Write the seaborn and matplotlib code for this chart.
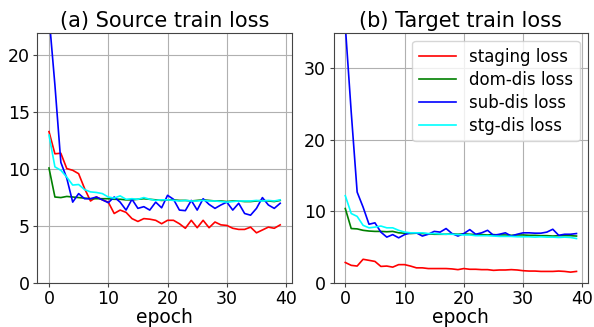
import numpy as np
import pandas as pd
import matplotlib
matplotlib.use("Agg")
import matplotlib.pyplot as plt
import seaborn as sns

epochs = list(range(40))
series_names = ["staging loss", "dom-dis loss", "sub-dis loss", "stg-dis loss"]
colors = ["red", "green", "blue", "cyan"]

# (a) source train loss
src_staging = [13.3, 11.35, 11.4, 10.05, 9.9, 9.6, 8.3, 7.2, 7.55, 7.3,
               7.1, 6.1, 6.4, 6.2, 5.65, 5.4, 5.65, 5.6, 5.5, 5.2,
               5.5, 5.5, 5.2, 4.8, 5.5, 4.85, 5.5, 4.85, 5.35, 5.1,
               5.05, 4.8, 4.7, 4.7, 4.9, 4.4, 4.65, 4.9, 4.8, 5.1]
src_dom = [10.1, 7.55, 7.5, 7.6, 7.55, 7.5, 7.45, 7.4, 7.4, 7.4,
           7.4, 7.35, 7.35, 7.3, 7.3, 7.35, 7.4, 7.35, 7.3, 7.25,
           7.3, 7.3, 7.25, 7.25, 7.2, 7.25, 7.3, 7.25, 7.2, 7.2,
           7.15, 7.2, 7.2, 7.15, 7.15, 7.2, 7.25, 7.2, 7.15, 7.25]
src_sub = [23.5, 17.4, 10.6, 9.2, 7.1, 7.85, 7.4, 7.4, 7.55, 7.3,
           7.05, 7.55, 7.1, 6.4, 7.35, 6.55, 6.7, 6.4, 7.1, 6.6,
           7.7, 7.35, 6.4, 6.35, 7.25, 6.4, 7.4, 6.9, 6.55, 6.85,
           7.1, 6.4, 7.0, 6.1, 5.95, 6.55, 7.5, 6.85, 6.55, 7.0]
src_stg = [13.0, 10.2, 9.9, 9.3, 8.6, 8.65, 8.2, 8.0, 7.95, 7.85,
           7.55, 7.45, 7.65, 7.35, 7.4, 7.35, 7.5, 7.35, 7.25, 7.3,
           7.3, 7.25, 7.2, 7.25, 7.2, 7.2, 7.25, 7.2, 7.2, 7.15,
           7.1, 7.15, 7.2, 7.2, 7.2, 7.25, 7.2, 7.25, 7.2, 7.3]

# (b) target train loss
tgt_staging = [2.85, 2.45, 2.35, 3.3, 3.15, 3.0, 2.3, 2.35, 2.2, 2.55,
               2.55, 2.35, 2.1, 2.1, 2.0, 2.0, 2.0, 2.0, 1.95, 1.85,
               2.0, 1.9, 1.9, 1.85, 1.85, 1.75, 1.8, 1.8, 1.85, 1.8,
               1.7, 1.65, 1.65, 1.6, 1.6, 1.6, 1.65, 1.6, 1.5, 1.6]
tgt_dom = [10.4, 7.6, 7.55, 7.35, 7.25, 7.2, 7.2, 7.15, 7.2, 7.0,
           6.95, 6.9, 6.95, 6.9, 6.85, 6.8, 6.8, 6.8, 6.85, 6.8,
           6.85, 6.8, 6.75, 6.75, 6.7, 6.75, 6.7, 6.7, 6.65, 6.7,
           6.7, 6.65, 6.65, 6.6, 6.6, 6.55, 6.6, 6.6, 6.6, 6.55]
tgt_sub = [36.0, 23.9, 12.7, 10.6, 8.2, 8.4, 7.1, 6.4, 6.75, 6.3,
           6.75, 7.0, 7.0, 6.55, 6.8, 7.2, 7.1, 7.6, 6.9, 6.55,
           6.9, 7.45, 6.8, 7.0, 7.35, 6.65, 6.8, 7.0, 6.55, 6.8,
           7.0, 7.0, 6.95, 6.95, 7.1, 7.5, 6.65, 6.8, 6.8, 6.9]
tgt_stg = [12.2, 9.7, 9.3, 8.05, 7.7, 7.8, 7.95, 7.7, 7.7, 7.35,
           7.1, 7.0, 7.0, 7.0, 6.9, 6.9, 6.85, 6.8, 6.8, 6.75,
           6.7, 6.7, 6.6, 6.6, 6.6, 6.55, 6.5, 6.5, 6.5, 6.45,
           6.45, 6.45, 6.4, 6.45, 6.4, 6.4, 6.35, 6.4, 6.35, 6.2]


def to_long(cols):
    frames = []
    for name, vals in zip(series_names, cols):
        frames.append(pd.DataFrame({"epoch": epochs, "loss": vals, "series": name}))
    return pd.concat(frames, ignore_index=True)


src_df = to_long([src_staging, src_dom, src_sub, src_stg])
tgt_df = to_long([tgt_staging, tgt_dom, tgt_sub, tgt_stg])
palette = dict(zip(series_names, colors))

plt.rcParams["font.family"] = ["DejaVu Sans"]
fig, axes = plt.subplots(1, 2, figsize=(5.94, 3.27), dpi=100)

panels = [
    (axes[0], src_df, "(a) Source train loss", 22, [0, 5, 10, 15, 20]),
    (axes[1], tgt_df, "(b) Target train loss", 35, [0, 10, 20, 30]),
]
for ax, df, title, top, yticks in panels:
    sns.lineplot(data=df, x="epoch", y="loss", hue="series", palette=palette,
                 linewidth=1.2, ax=ax, legend=(ax is axes[1]))
    ax.set_ylim(0, top)
    ax.set_yticks(yticks)
    ax.set_xticks([0, 10, 20, 30, 40])
    ax.set_title(title, fontsize=15, pad=4)
    ax.set_xlabel("epoch", fontsize=13.5, labelpad=0)
    ax.set_ylabel("")
    ax.tick_params(labelsize=12.5, length=3, pad=2.5, color="#444444")
    ax.grid(True, color="#b0b0b0", linewidth=0.8)
    for s in ax.spines.values():
        s.set_color("#444444")

leg = axes[1].legend(loc="upper right", fontsize=12, handlelength=2.2,
                     borderpad=0.4, labelspacing=0.3)
leg.set_title(None)

fig.subplots_adjust(left=0.063, right=0.99, top=0.9, bottom=0.135, wspace=0.165)
fig.savefig("out.png", dpi=100)
